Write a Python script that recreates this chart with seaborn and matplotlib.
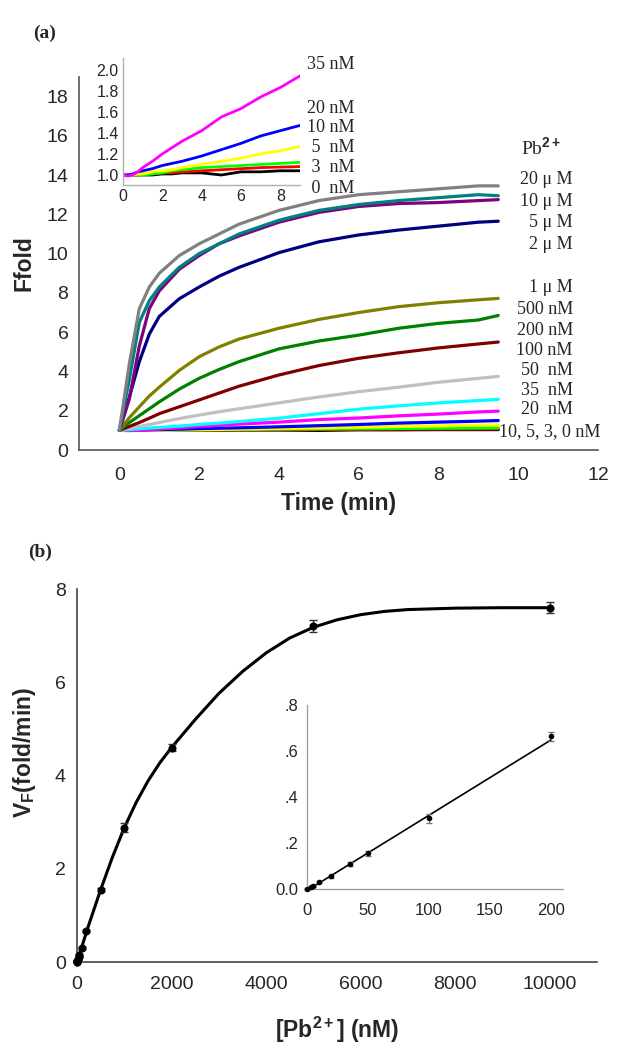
import numpy as np
import pandas as pd
import matplotlib
matplotlib.use("Agg")
import matplotlib.pyplot as plt
import seaborn as sns

# ---- panel (a): fluorescence fold vs time ----
time_min = [0, 0.25, 0.5, 0.75, 1, 1.5, 2, 2.5, 3, 4, 5, 6, 7, 8, 9, 9.5]

conc_labels = ["20 uM", "10 uM", "5 uM", "2 uM", "1 uM", "500 nM", "200 nM", "100 nM",
               "50 nM", "35 nM", "20 nM", "10 nM", "5 nM", "3 nM", "0 nM"]
line_colors = ["#808080", "#008080", "#800080", "#000080", "#808000", "#008000", "#800000",
               "#C0C0C0", "#00FFFF", "#FF00FF", "#0000FF", "#FFFF00", "#00FF00", "#FF0000", "#000000"]

f_20uM = [1, 4.4, 7.2, 8.3, 9.0, 9.9, 10.5, 11.0, 11.5, 12.2, 12.7, 13.0, 13.15, 13.3, 13.45, 13.45]
f_10uM = [1, 3.6, 6.5, 7.6, 8.3, 9.3, 10.0, 10.5, 11.0, 11.7, 12.2, 12.5, 12.7, 12.85, 13.0, 12.95]
f_5uM = [1, 2.6, 5.3, 7.2, 8.1, 9.2, 9.9, 10.5, 10.9, 11.6, 12.1, 12.4, 12.55, 12.6, 12.7, 12.75]
f_2uM = [1, 2.7, 4.5, 5.9, 6.8, 7.7, 8.3, 8.85, 9.3, 10.05, 10.6, 10.95, 11.2, 11.4, 11.6, 11.65]
f_1uM = [1, 1.65, 2.2, 2.75, 3.2, 4.05, 4.75, 5.25, 5.65, 6.2, 6.65, 7.0, 7.3, 7.5, 7.65, 7.72]
f_500nM = [1, 1.4, 1.75, 2.1, 2.45, 3.1, 3.65, 4.1, 4.5, 5.15, 5.55, 5.85, 6.2, 6.45, 6.62, 6.85]
f_200nM = [1, 1.2, 1.4, 1.62, 1.85, 2.2, 2.55, 2.9, 3.25, 3.82, 4.3, 4.67, 4.95, 5.2, 5.4, 5.5]
f_100nM = [1, 1.1, 1.2, 1.3, 1.4, 1.6, 1.78, 1.95, 2.1, 2.4, 2.7, 2.97, 3.2, 3.45, 3.65, 3.75]
f_50nM = [1, 1.04, 1.08, 1.12, 1.15, 1.22, 1.3, 1.37, 1.45, 1.62, 1.85, 2.08, 2.25, 2.4, 2.52, 2.58]
f_35nM = [1.0, 0.99, 1.0, 1.03, 1.07, 1.13, 1.2, 1.26, 1.32, 1.42, 1.55, 1.63, 1.74, 1.83, 1.94, 1.98]
f_20nM = [1.0, 1.0, 1.01, 1.03, 1.04, 1.06, 1.09, 1.11, 1.13, 1.18, 1.24, 1.3, 1.37, 1.42, 1.47, 1.5]
f_10nM = [1.0, 1.0, 1.0, 1.01, 1.01, 1.03, 1.04, 1.05, 1.07, 1.1, 1.13, 1.16, 1.2, 1.23, 1.27, 1.28]
f_5nM = [1.0, 1.0, 1.0, 1.0, 1.0, 1.01, 1.02, 1.04, 1.05, 1.07, 1.08, 1.09, 1.1, 1.11, 1.12, 1.13]
f_3nM = [1.0, 1.0, 1.0, 1.0, 1.01, 1.01, 1.02, 1.02, 1.03, 1.04, 1.05, 1.06, 1.07, 1.075, 1.08, 1.08]
f_0nM = [1.0, 1.0, 1.0, 1.0, 1.0, 1.0, 1.01, 1.01, 1.02, 1.02, 1.0, 1.03, 1.03, 1.04, 1.04, 1.04]

all_curves = [f_20uM, f_10uM, f_5uM, f_2uM, f_1uM, f_500nM, f_200nM, f_100nM,
              f_50nM, f_35nM, f_20nM, f_10nM, f_5nM, f_3nM, f_0nM]

# ---- panel (b): initial rate vs [Pb2+] ----
pb_nM = [0, 3, 5, 10, 20, 35, 50, 100, 200, 500, 1000, 2000, 5000, 10000]
rate = [0.0, 0.008, 0.013, 0.032, 0.055, 0.108, 0.155, 0.307, 0.665, 1.55, 2.88, 4.6, 7.2, 7.6]
rate_err = [0.003, 0.003, 0.003, 0.005, 0.006, 0.008, 0.01, 0.02, 0.02, 0.03, 0.1, 0.08, 0.13, 0.12]

fit_x = [0, 250, 500, 750, 1000, 1250, 1500, 1750, 2000, 2500, 3000, 3500, 4000, 4500,
         5000, 5500, 6000, 6500, 7000, 8000, 9000, 10000]
fit_y = [0, 0.8, 1.55, 2.25, 2.88, 3.42, 3.88, 4.27, 4.6, 5.2, 5.76, 6.23, 6.63, 6.95,
         7.18, 7.34, 7.45, 7.52, 7.56, 7.59, 7.6, 7.6]
lin_x = [2, 200]
lin_y = [0.0, 0.648]

rows = []
for lab, vals in zip(conc_labels, all_curves):
    for t, v in zip(time_min, vals):
        rows.append((lab, t, v))
df = pd.DataFrame(rows, columns=["conc", "time", "ffold"])
pal = dict(zip(conc_labels, line_colors))

sns.set_theme(style="white")
plt.rcParams["font.family"] = ["Liberation Sans", "DejaVu Sans"]
plt.rcParams["mathtext.fontset"] = "custom"
plt.rcParams["mathtext.rm"] = "Liberation Sans"
plt.rcParams["mathtext.bf"] = "Liberation Sans:bold"
plt.rcParams["mathtext.it"] = "Liberation Sans:italic"

fig = plt.figure(figsize=(6.22, 10.5), dpi=100)
serif = ["Liberation Serif", "DejaVu Serif"]


def style_axes(ax, color, lw):
    for s in ["top", "right"]:
        ax.spines[s].set_visible(False)
    for s in ["left", "bottom"]:
        ax.spines[s].set_color(color)
        ax.spines[s].set_linewidth(lw)


# main (a)
ax1 = fig.add_axes([0.1278, 0.5714, 0.8336, 0.3554])
sns.lineplot(data=df, x="time", y="ffold", hue="conc", hue_order=conc_labels[::-1],
             palette=pal, estimator=None, linewidth=2.3, legend=False, ax=ax1)
ax1.set_xlim(-1, 12)
ax1.set_ylim(0, 19)
ax1.set_xticks(range(0, 13, 2))
ax1.set_yticks(range(0, 19, 2))
style_axes(ax1, "#555555", 1.2)
ax1.tick_params(axis="x", direction="in", length=5, width=1, color="#555555", labelsize=14, pad=12)
ax1.tick_params(axis="y", direction="out", length=5, width=1, color="#555555", labelsize=14, pad=3)
ax1.set_xlabel("Time (min)", fontsize=16.5, fontweight="bold")
ax1.set_ylabel("Ffold", fontsize=16.5, fontweight="bold")
ax1.xaxis.set_label_coords(0.5, -(492 - 450) / 373.2)
ax1.yaxis.set_label_coords(-0.085, 0.5)

ax1.text(10.07, 15.43, "Pb$^{\\mathbf{2+}}$", fontsize=14, family=serif, va="center", ha="left")
right_labels = ["20 \u03bc M", "10 \u03bc M", "5 \u03bc M", "2 \u03bc M", "1 \u03bc M", "500 nM",
                "200 nM", "100 nM", "50  nM", "35  nM", "20  nM"]
right_label_y = [13.75, 12.63, 11.56, 10.44, 8.3, 7.13, 6.11, 5.09, 4.07, 3.05, 2.04]
for lab, yy in zip(right_labels, right_label_y):
    ax1.text(11.37, yy, lab, fontsize=13, family=serif, ha="right", va="center")
ax1.text(12.05, 0.92, "10, 5, 3, 0 nM", fontsize=13, family=serif, ha="right", va="center")

# inset (a)
ax2 = fig.add_axes([0.1977, 0.8238, 0.2846, 0.1210])
sub = df[df["conc"].isin(conc_labels[9:]) & (df["time"] <= 9)]
sns.lineplot(data=sub, x="time", y="ffold", hue="conc", hue_order=conc_labels[9:][::-1],
             palette=pal, estimator=None, linewidth=2.0, legend=False, ax=ax2)
ax2.set_xlim(0, 9)
ax2.set_ylim(0.905, 2.11)
ax2.set_xticks(range(0, 9, 2))
ax2.set_yticks([1.0, 1.2, 1.4, 1.6, 1.8, 2.0])
ax2.set_yticklabels(["1.0", "1.2", "1.4", "1.6", "1.8", "2.0"])
ax2.set_facecolor("none")
style_axes(ax2, "#b0b0b0", 1.0)
ax2.tick_params(length=0, labelsize=11.5, pad=3)
ax2.set_xlabel("")
ax2.set_ylabel("")
inset_label_y = [2.048, 1.63, 1.45, 1.26, 1.07, 0.876]
inset_label_txt = ["35 nM", "20 nM", "10 nM", " 5  nM", " 3  nM", " 0  nM"]
for lab, yy in zip(inset_label_txt, inset_label_y):
    ax2.text(9.35, yy, lab, fontsize=13, family=serif, ha="left", va="center")

fig.text(33 / 622, 1 - 33 / 1050, "(a)", fontsize=14, fontweight="bold", family=serif,
         ha="left", va="center")

# main (b)
ax3 = fig.add_axes([0.1238, 0.0838, 0.8360, 0.3552])
sns.lineplot(x=fit_x, y=fit_y, color="black", linewidth=2.2, ax=ax3)
ax3.errorbar(pb_nM, rate, yerr=rate_err, fmt="o", color="black", ms=4.8,
             ecolor="#333333", elinewidth=1, capsize=3, clip_on=False, zorder=3)
ax3.set_xlim(0, 11000)
ax3.set_ylim(0, 8)
ax3.set_xticks(range(0, 10001, 2000))
ax3.set_yticks(range(0, 9, 2))
style_axes(ax3, "#444444", 1.2)
ax3.tick_params(axis="x", direction="in", length=5, width=1, color="#444444", labelsize=14, pad=10)
ax3.tick_params(axis="y", direction="out", length=5, width=1, color="#444444", labelsize=14, pad=3)
ax3.set_xlabel("[Pb$^{\\mathbf{2+}}$] (nM)", fontsize=16.5, fontweight="bold")
ax3.set_ylabel("V$_{\\mathbf{F}}$(fold/min)", fontsize=16.5, fontweight="bold")
ax3.xaxis.set_label_coords(0.5, -(1015 - 962) / 373.0)
ax3.yaxis.set_label_coords(-0.075, 0.563)

# inset (b)
ax4 = fig.add_axes([0.4936, 0.1533, 0.4116, 0.1752])
sns.lineplot(x=lin_x, y=lin_y, color="black", linewidth=1.2, ax=ax4)
ax4.errorbar(pb_nM[:9], rate[:9], yerr=rate_err[:9], fmt="o", color="black", ms=3,
             ecolor="#777777", elinewidth=0.8, capsize=2.5, clip_on=False, zorder=3)
ax4.set_xlim(0, 210)
ax4.set_ylim(0, 0.8)
ax4.set_xticks([0, 50, 100, 150, 200])
ax4.set_yticks([0, 0.2, 0.4, 0.6, 0.8])
ax4.set_yticklabels(["0.0", ".2", ".4", ".6", ".8"])
ax4.set_facecolor("none")
style_axes(ax4, "#999999", 0.9)
ax4.tick_params(axis="x", direction="in", length=3, width=0.8, color="#999999", labelsize=12, pad=10)
ax4.tick_params(axis="y", direction="out", length=3, width=0.8, color="#999999", labelsize=12, pad=3)

fig.text(28 / 622, 1 - 552 / 1050, "(b)", fontsize=14, fontweight="bold", family=serif,
         ha="left", va="center")

fig.savefig("out.png", dpi=100)
